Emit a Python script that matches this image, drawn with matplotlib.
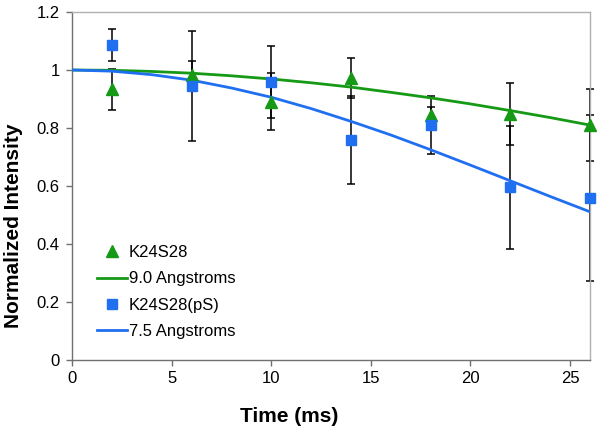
import matplotlib
matplotlib.use("Agg")
import matplotlib.pyplot as plt
from matplotlib.ticker import FormatStrFormatter

plt.rcParams['font.family'] = ['Liberation Sans', 'DejaVu Sans']

# measured points
time_ms = [2, 6, 10, 14, 18, 22, 26]
k24s28 = [0.933, 0.983, 0.891, 0.972, 0.845, 0.848, 0.810]
k24s28_err = [0.072, 0.048, 0.097, 0.068, 0.026, 0.108, 0.124]
k24s28_ps = [1.086, 0.945, 0.960, 0.759, 0.810, 0.595, 0.558]
k24s28_ps_err = [0.056, 0.190, 0.124, 0.152, 0.100, 0.212, 0.286]

# fitted curves
fit_time = [0, 2, 4, 6, 8, 10, 12, 14, 16, 18, 20, 22, 24, 26]
fit_90 = [1.0, 0.999, 0.995, 0.989, 0.980, 0.969, 0.956, 0.941, 0.923, 0.904, 0.883, 0.860, 0.836, 0.810]
fit_75 = [1.0, 0.996, 0.984, 0.965, 0.938, 0.906, 0.867, 0.823, 0.776, 0.725, 0.672, 0.618, 0.564, 0.511]

green = '#169a16'
blue = '#1f6ff0'

fig = plt.figure(figsize=(6.01, 4.33), dpi=100)
ax = fig.add_axes([72 / 601, 1 - 360 / 433, 518 / 601, 348 / 433])

for vals, errs in [(k24s28, k24s28_err), (k24s28_ps, k24s28_ps_err)]:
    eb = ax.errorbar(time_ms, vals, yerr=errs, fmt='none', ecolor='black',
                     elinewidth=1.1, capsize=3, capthick=1.1, zorder=2)
    for art in eb.lines[1] + eb.lines[2]:
        art.set_clip_on(False)

l90, = ax.plot(fit_time, fit_90, color=green, lw=2.0, zorder=3)
l75, = ax.plot(fit_time, fit_75, color=blue, lw=2.0, zorder=3)

m1, = ax.plot(time_ms, k24s28, ls='none', marker='^', ms=8.5, color=green,
              zorder=4, clip_on=False)
m2, = ax.plot(time_ms, k24s28_ps, ls='none', marker='s', ms=7, color=blue,
              zorder=4, clip_on=False)

ax.set_xlim(0, 26)
ax.set_ylim(0, 1.2)
ax.set_xticks([0, 5, 10, 15, 20, 25])
ax.set_yticks([0, 0.2, 0.4, 0.6, 0.8, 1.0, 1.2])
ax.yaxis.set_major_formatter(FormatStrFormatter('%g'))
ax.tick_params(direction='out', length=4, width=1, color='#707070', labelsize=12)
ax.tick_params(axis='x', pad=4)
ax.tick_params(axis='y', pad=5)

for side in ['left', 'bottom']:
    ax.spines[side].set_color('#707070')
    ax.spines[side].set_linewidth(1.0)
for side in ['top', 'right']:
    ax.spines[side].set_color('#b0b0b0')
    ax.spines[side].set_linewidth(1.0)

ax.set_xlabel('Time (ms)', fontsize=15, fontweight='bold')
ax.set_ylabel('Normalized Intensity', fontsize=15, fontweight='bold')
ax.xaxis.set_label_coords((289 - 72) / 518, -(417 - 360) / 348)
ax.yaxis.set_label_coords(-(72 - 14) / 518, (360 - 226) / 348)
ax.xaxis.label.set_va('center')
ax.yaxis.label.set_va('center')

ax.legend([m1, l90, m2, l75],
          ['K24S28', '9.0 Angstroms', 'K24S28(pS)', '7.5 Angstroms'],
          loc='upper left', bbox_to_anchor=(97 / 601, 1 - 245 / 433),
          bbox_transform=fig.transFigure, frameon=False,
          fontsize=12, handlelength=1.8, handletextpad=0.1, labelspacing=0.68,
          borderpad=0, borderaxespad=0)

fig.savefig('out.png', dpi=100)
